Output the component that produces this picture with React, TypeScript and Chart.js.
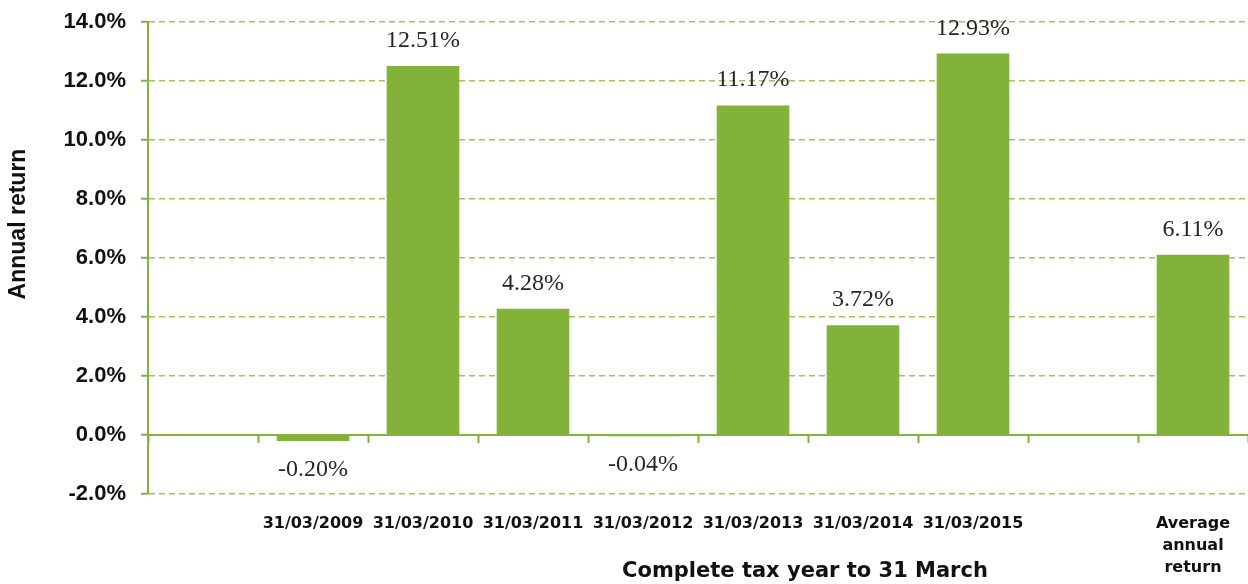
import React, { useEffect, useRef } from "react";
import { Chart, registerables } from "chart.js";

Chart.register(...registerables);

const categories: (string | string[])[] = [
  "",
  "31/03/2009",
  "31/03/2010",
  "31/03/2011",
  "31/03/2012",
  "31/03/2013",
  "31/03/2014",
  "31/03/2015",
  "",
  ["Average", "annual", "return"],
];
const annualReturns: (number | null)[] = [null, -0.2, 12.51, 4.28, -0.04, 11.17, 3.72, 12.93, null, 6.11];
const yMin = -2;
const yMax = 14;
const yStep = 2;
const xTitle = "Complete tax year to 31 March";
const yTitle = "Annual return";

const BAR_GREEN = "#82B23A";
const AXIS_GREEN = "#84B33C";
const GRID_GREEN = "#9CC55A";
const TEXT = "#111111";

const valueLabels = {
  id: "valueLabels",
  afterDatasetsDraw(chart: any) {
    const ctx = chart.ctx;
    const meta = chart.getDatasetMeta(0);
    ctx.save();
    ctx.font = '24px "Liberation Serif"';
    ctx.fillStyle = "#262626";
    ctx.textAlign = "center";
    ctx.textBaseline = "alphabetic";
    meta.data.forEach((bar: any, i: number) => {
      const v = annualReturns[i];
      if (v === null || v === undefined) return;
      const p = bar.getProps(["x", "y"], true);
      const txt = v.toFixed(2) + "%";
      if (v >= 0) ctx.fillText(txt, p.x, p.y - 19);
      else ctx.fillText(txt, p.x, p.y + 35);
    });
    ctx.restore();
  },
};

const axisTitles = {
  id: "axisTitles",
  afterDraw(chart: any) {
    const ctx = chart.ctx;
    ctx.save();
    ctx.fillStyle = TEXT;
    ctx.textAlign = "center";
    ctx.textBaseline = "alphabetic";
    ctx.font = 'bold 21px "DejaVu Sans"';
    ctx.fillText(xTitle, 805, 577);
    ctx.translate(25, 224);
    ctx.rotate(-Math.PI / 2);
    ctx.font = 'bold 23px "Liberation Sans"';
    ctx.fillText(yTitle, 0, 0);
    ctx.restore();
  },
};

export default function App() {
  const ref = useRef<HTMLCanvasElement | null>(null);

  useEffect(() => {
    document.body.style.margin = "0";
    if (!ref.current) return;
    const chart = new Chart(ref.current, {
      type: "bar",
      data: {
        labels: categories as any,
        datasets: [
          {
            data: annualReturns as any,
            backgroundColor: BAR_GREEN,
            borderWidth: 0,
            barPercentage: 0.66,
            categoryPercentage: 1,
            xAxisID: "x",
            yAxisID: "y",
          },
        ],
      },
      options: {
        animation: false,
        responsive: false,
        events: [],
        layout: { padding: { top: 22, left: 0, right: 0, bottom: 0 } },
        plugins: {
          legend: { display: false },
          tooltip: { enabled: false },
          title: { display: false },
        },
        scales: {
          x: {
            type: "category",
            position: { y: 0 } as any,
            offset: true,
            ticks: { display: false },
            grid: {
              display: true,
              offset: true,
              drawOnChartArea: false,
              drawTicks: true,
              tickLength: 7,
              tickColor: AXIS_GREEN,
              tickWidth: 2,
              color: AXIS_GREEN,
            },
            border: { display: true, color: AXIS_GREEN, width: 2 },
            afterFit(scale: any) {
              scale.paddingLeft = 0;
              scale.paddingRight = 0;
              scale.paddingTop = 0;
              scale.paddingBottom = 0;
            },
          } as any,
          x2: {
            type: "category",
            axis: "x",
            position: "bottom",
            offset: true,
            grid: { display: false, drawTicks: false },
            border: { display: false },
            ticks: {
              autoSkip: false,
              maxRotation: 0,
              minRotation: 0,
              padding: 19,
              color: TEXT,
              font: { family: "DejaVu Sans", weight: "bold", size: 16, lineHeight: 1.375 },
            },
            afterFit(scale: any) {
              scale.height = 90;
              scale.paddingLeft = 0;
              scale.paddingRight = 0;
            },
          } as any,
          y: {
            type: "linear",
            min: yMin,
            max: yMax,
            ticks: {
              stepSize: yStep,
              padding: 15,
              color: TEXT,
              font: { family: "Liberation Sans", weight: "bold", size: 22 },
              callback: (v: any) => Number(v).toFixed(1) + "%",
            },
            grid: {
              color: GRID_GREEN,
              lineWidth: 1.5,
              drawTicks: true,
              tickLength: 7,
              tickColor: AXIS_GREEN,
              tickWidth: 2,
            },
            border: { display: true, color: AXIS_GREEN, width: 2, dash: [6, 4] },
            afterFit(scale: any) {
              scale.width = 148;
              scale.paddingTop = 0;
              scale.paddingBottom = 0;
            },
          },
        },
      },
      plugins: [valueLabels, axisTitles],
    });
    return () => chart.destroy();
  }, []);

  return (
    <div style={{ width: 1248, height: 584 }}>
      <canvas ref={ref} width={1248} height={584} style={{ display: "block", width: 1248, height: 584 }} />
    </div>
  );
}
